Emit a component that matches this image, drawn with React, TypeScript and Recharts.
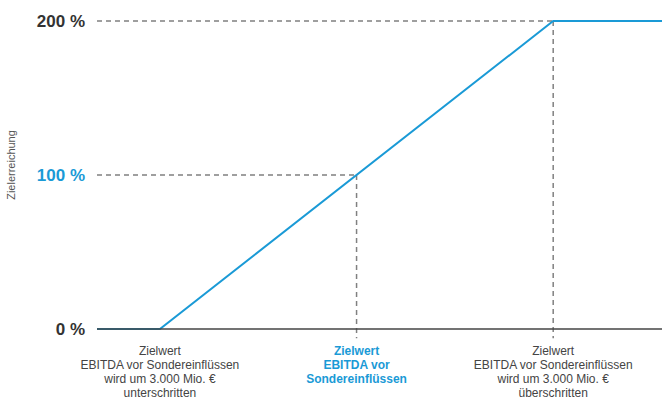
import React from "react";
import {
  LineChart,
  Line,
  XAxis,
  YAxis,
  ReferenceLine,
} from "recharts";

// Abweichung vom Zielwert (Mio. €) und Zielerreichung (%)
const deviation = [-3960, -3000, 3000, 4660];
const achievement = [0, 0, 200, 200];

const yTicks = [0, 100, 200];
const yTickLabels = ["0 %", "100 %", "200 %"];

const xTicks = [-3000, 0, 3000];
const xTickLabels: string[][] = [
  ["Zielwert", "EBITDA vor Sondereinflüssen", "wird um 3.000 Mio. €", "unterschritten"],
  ["Zielwert", "EBITDA vor", "Sondereinflüssen"],
  ["Zielwert", "EBITDA vor Sondereinflüssen", "wird um 3.000 Mio. €", "überschritten"],
];

const data = deviation.map((d, i) => ({ x: d, y: achievement[i] }));

const BLUE = "#1a9ad6";
const DARK = "#333333";
const FONT = "'Liberation Sans', Arial, Helvetica, sans-serif";

const YTick = ({ x, y, payload }: any) => {
  const idx = yTicks.indexOf(payload.value);
  return (
    <text
      x={x}
      y={y}
      dy={6}
      textAnchor="end"
      fontFamily={FONT}
      fontSize={17}
      fontWeight="bold"
      fill={payload.value === 100 ? BLUE : DARK}
    >
      {yTickLabels[idx]}
    </text>
  );
};

const XTick = ({ x, y, payload }: any) => {
  const idx = xTicks.indexOf(payload.value);
  const highlight = payload.value === 0;
  return (
    <text
      x={x}
      y={y}
      textAnchor="middle"
      fontFamily={FONT}
      fontSize={12}
      fontWeight={highlight ? "bold" : "normal"}
      fill={highlight ? BLUE : "#444"}
    >
      {xTickLabels[idx].map((line, i) => (
        <tspan key={i} x={x} dy={i === 0 ? 18 : 14}>
          {line}
        </tspan>
      ))}
    </text>
  );
};

const AxisTitle = ({ viewBox }: any) => {
  const cy = viewBox.y + viewBox.height / 2 - 10;
  return (
    <text
      x={15}
      y={cy}
      transform={`rotate(-90, 15, ${cy})`}
      textAnchor="middle"
      fontFamily={FONT}
      fontSize={11}
      fill="#555"
    >
      Zielerreichung
    </text>
  );
};

const dash = { stroke: "#808080", strokeWidth: 1.5, strokeDasharray: "5 4" };

export default function App() {
  return (
    <div style={{ position: "absolute", left: 0, top: 0 }}>
      <LineChart
        width={662}
        height={399}
        data={data}
        margin={{ top: 21, right: 0, left: 0, bottom: 0 }}
      >
        <XAxis
          dataKey="x"
          type="number"
          domain={[-3960, 4660]}
          ticks={xTicks}
          tick={<XTick />}
          tickLine={false}
          axisLine={{ stroke: "#444", strokeWidth: 1.5 }}
          height={70}
          interval={0}
        />
        <YAxis
          type="number"
          domain={[0, 200]}
          ticks={yTicks}
          tick={<YTick />}
          tickLine={false}
          axisLine={false}
          tickMargin={6}
          width={97}
          label={<AxisTitle />}
        />
        <ReferenceLine
          segment={[{ x: -3960, y: 200 }, { x: 3000, y: 200 }]}
          {...dash}
          ifOverflow="visible"
        />
        <ReferenceLine
          segment={[{ x: -3960, y: 100 }, { x: 0, y: 100 }]}
          {...dash}
          ifOverflow="visible"
        />
        <ReferenceLine
          segment={[{ x: 0, y: 100 }, { x: 0, y: -6 }]}
          {...dash}
          ifOverflow="visible"
        />
        <ReferenceLine
          segment={[{ x: 3000, y: 200 }, { x: 3000, y: -6 }]}
          {...dash}
          ifOverflow="visible"
        />
        <Line
          type="linear"
          dataKey="y"
          stroke={BLUE}
          strokeWidth={2}
          dot={false}
          activeDot={false}
          isAnimationActive={false}
        />
      </LineChart>
    </div>
  );
}
